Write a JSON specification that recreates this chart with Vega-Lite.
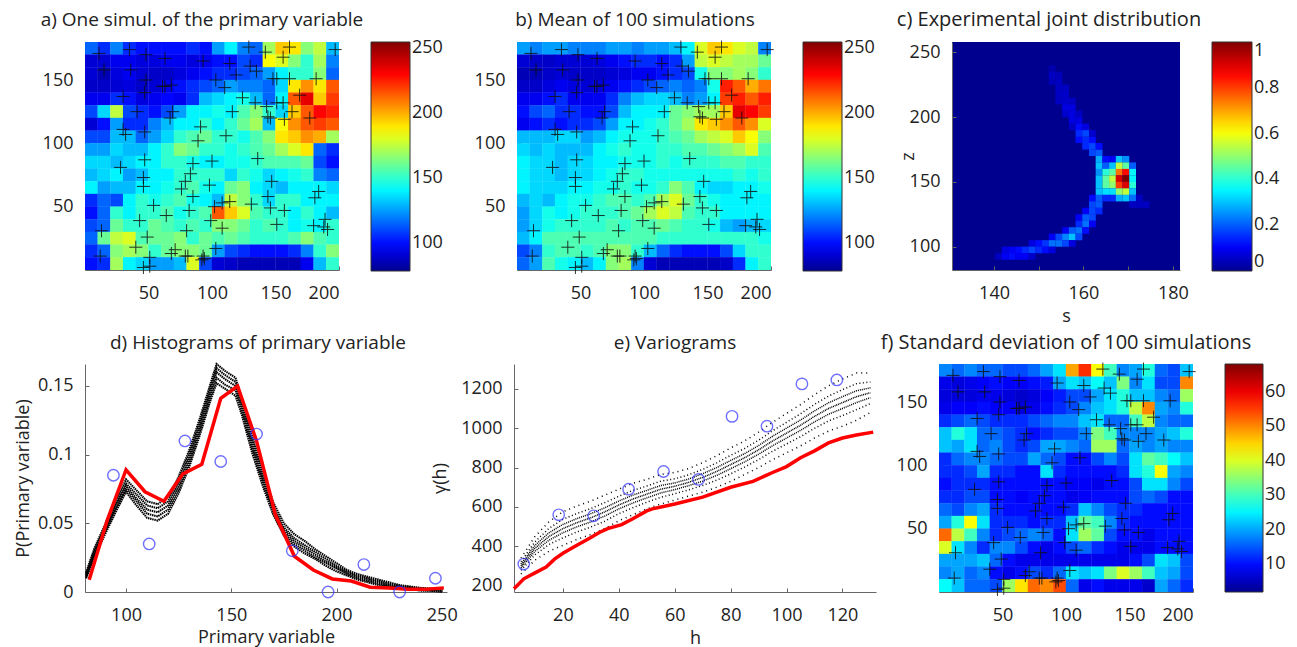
{"$schema":"https://vega.github.io/schema/vega-lite/v6.json","padding":{"left":14,"top":10,"right":0,"bottom":0},"background":"white","bounds":"flush","spacing":322,"resolve":{"scale":{"color":"independent"},"legend":{"color":"independent"}},
"config":{"font":"Open Sans","view":{"stroke":null},"axis":{"grid":false,"domainColor":"#666","tickColor":"#666","labelColor":"#222","titleColor":"#222","labelFontSize":18,"titleFontSize":18,"titleFontWeight":"normal","tickSize":-4,"labelOverlap":false,"labelFont":"Open Sans","titleFont":"Open Sans"},"axisX":{"labelPadding":18},"axisY":{"labelPadding":16},"title":{"fontSize":19,"fontWeight":"normal","color":"#222","font":"Open Sans","offset":11},"legend":{"gradientStrokeColor":"#333","gradientStrokeWidth":1,"labelFontSize":18,"labelColor":"#222","labelFont":"Open Sans","padding":0,"labelOverlap":false,"labelOffset":9}},
"datasets":{
"pts":[{"x":11,"y":171},{"x":35,"y":174},{"x":48,"y":170},{"x":63,"y":167},{"x":93,"y":165},{"x":114,"y":163},{"x":130,"y":161},{"x":135,"y":157},{"x":119,"y":154},{"x":129,"y":176},{"x":142,"y":172},{"x":161,"y":176},{"x":156,"y":168},{"x":197,"y":174},{"x":15,"y":158},{"x":36,"y":158},{"x":48,"y":150},{"x":68,"y":146},{"x":63,"y":145},{"x":61,"y":145},{"x":103,"y":150},{"x":110,"y":144},{"x":148,"y":151},{"x":151,"y":151},{"x":161,"y":151},{"x":182,"y":151},{"x":30,"y":137},{"x":47,"y":140},{"x":124,"y":136},{"x":134,"y":132},{"x":143,"y":129},{"x":151,"y":132},{"x":156,"y":132},{"x":169,"y":138},{"x":41,"y":125},{"x":69,"y":125},{"x":67,"y":120},{"x":116,"y":125},{"x":144,"y":121},{"x":146,"y":120},{"x":157,"y":119},{"x":163,"y":125},{"x":177,"y":120},{"x":30,"y":111},{"x":32,"y":107},{"x":47,"y":109},{"x":91,"y":113},{"x":89,"y":102},{"x":111,"y":106},{"x":136,"y":88},{"x":47,"y":87},{"x":28,"y":81},{"x":85,"y":84},{"x":100,"y":86},{"x":83,"y":76},{"x":79,"y":70},{"x":46,"y":73},{"x":46,"y":66},{"x":76,"y":64},{"x":98,"y":67},{"x":147,"y":70},{"x":184,"y":62},{"x":181,"y":57},{"x":85,"y":58},{"x":144,"y":58},{"x":108,"y":53},{"x":114,"y":54},{"x":102,"y":50},{"x":131,"y":52},{"x":54,"y":51},{"x":146,"y":49},{"x":82,"y":47},{"x":157,"y":47},{"x":64,"y":43},{"x":43,"y":39},{"x":99,"y":39},{"x":189,"y":40},{"x":151,"y":36},{"x":180,"y":35},{"x":188,"y":34},{"x":191,"y":32},{"x":108,"y":33},{"x":80,"y":31},{"x":13,"y":31},{"x":49,"y":26},{"x":40,"y":18},{"x":71,"y":16},{"x":103,"y":17},{"x":12,"y":11},{"x":51,"y":10},{"x":68,"y":13},{"x":79,"y":11},{"x":81,"y":11},{"x":93,"y":11},{"x":94,"y":9},{"x":92,"y":8},{"x":46,"y":2},{"x":51,"y":3}],
"a":[{"x":5,"y":175,"v":115},{"x":15,"y":175,"v":105},{"x":25,"y":175,"v":120},{"x":35,"y":175,"v":105},{"x":45,"y":175,"v":100},{"x":55,"y":175,"v":100},{"x":65,"y":175,"v":100},{"x":75,"y":175,"v":100},{"x":85,"y":175,"v":105},{"x":95,"y":175,"v":100},{"x":105,"y":175,"v":125},{"x":115,"y":175,"v":140},{"x":125,"y":175,"v":120},{"x":135,"y":175,"v":115},{"x":145,"y":175,"v":170},{"x":155,"y":175,"v":195},{"x":165,"y":175,"v":190},{"x":175,"y":175,"v":165},{"x":185,"y":175,"v":175},{"x":195,"y":175,"v":130},
{"x":5,"y":165,"v":90},{"x":15,"y":165,"v":90},{"x":25,"y":165,"v":95},{"x":35,"y":165,"v":95},{"x":45,"y":165,"v":92},{"x":55,"y":165,"v":92},{"x":65,"y":165,"v":95},{"x":75,"y":165,"v":95},{"x":85,"y":165,"v":92},{"x":95,"y":165,"v":95},{"x":105,"y":165,"v":100},{"x":115,"y":165,"v":100},{"x":125,"y":165,"v":110},{"x":135,"y":165,"v":105},{"x":145,"y":165,"v":185},{"x":155,"y":165,"v":180},{"x":165,"y":165,"v":165},{"x":175,"y":165,"v":150},{"x":185,"y":165,"v":170},{"x":195,"y":165,"v":120},
{"x":5,"y":155,"v":90},{"x":15,"y":155,"v":85},{"x":25,"y":155,"v":92},{"x":35,"y":155,"v":95},{"x":45,"y":155,"v":90},{"x":55,"y":155,"v":88},{"x":65,"y":155,"v":88},{"x":75,"y":155,"v":92},{"x":85,"y":155,"v":95},{"x":95,"y":155,"v":100},{"x":105,"y":155,"v":105},{"x":115,"y":155,"v":105},{"x":125,"y":155,"v":110},{"x":135,"y":155,"v":115},{"x":145,"y":155,"v":125},{"x":155,"y":155,"v":140},{"x":165,"y":155,"v":150},{"x":175,"y":155,"v":150},{"x":185,"y":155,"v":165},{"x":195,"y":155,"v":115},
{"x":5,"y":145,"v":88},{"x":15,"y":145,"v":88},{"x":25,"y":145,"v":90},{"x":35,"y":145,"v":92},{"x":45,"y":145,"v":88},{"x":55,"y":145,"v":90},{"x":65,"y":145,"v":95},{"x":75,"y":145,"v":100},{"x":85,"y":145,"v":105},{"x":95,"y":145,"v":110},{"x":105,"y":145,"v":115},{"x":115,"y":145,"v":125},{"x":125,"y":145,"v":120},{"x":135,"y":145,"v":120},{"x":145,"y":145,"v":115},{"x":155,"y":145,"v":135},{"x":165,"y":145,"v":190},{"x":175,"y":145,"v":205},{"x":185,"y":145,"v":190},{"x":195,"y":145,"v":215},
{"x":5,"y":135,"v":95},{"x":15,"y":135,"v":95},{"x":25,"y":135,"v":105},{"x":35,"y":135,"v":100},{"x":45,"y":135,"v":92},{"x":55,"y":135,"v":95},{"x":65,"y":135,"v":98},{"x":75,"y":135,"v":95},{"x":85,"y":135,"v":105},{"x":95,"y":135,"v":130},{"x":105,"y":135,"v":135},{"x":115,"y":135,"v":140},{"x":125,"y":135,"v":145},{"x":135,"y":135,"v":130},{"x":145,"y":135,"v":115},{"x":155,"y":135,"v":140},{"x":165,"y":135,"v":215},{"x":175,"y":135,"v":235},{"x":185,"y":135,"v":195},{"x":195,"y":135,"v":220},
{"x":5,"y":125,"v":110},{"x":15,"y":125,"v":135},{"x":25,"y":125,"v":175},{"x":35,"y":125,"v":110},{"x":45,"y":125,"v":105},{"x":55,"y":125,"v":100},{"x":65,"y":125,"v":110},{"x":75,"y":125,"v":125},{"x":85,"y":125,"v":140},{"x":95,"y":125,"v":140},{"x":105,"y":125,"v":145},{"x":115,"y":125,"v":140},{"x":125,"y":125,"v":155},{"x":135,"y":125,"v":165},{"x":145,"y":125,"v":150},{"x":155,"y":125,"v":135},{"x":165,"y":125,"v":195},{"x":175,"y":125,"v":215},{"x":185,"y":125,"v":230},{"x":195,"y":125,"v":225},
{"x":5,"y":115,"v":90},{"x":15,"y":115,"v":100},{"x":25,"y":115,"v":125},{"x":35,"y":115,"v":105},{"x":45,"y":115,"v":105},{"x":55,"y":115,"v":120},{"x":65,"y":115,"v":130},{"x":75,"y":115,"v":140},{"x":85,"y":115,"v":140},{"x":95,"y":115,"v":150},{"x":105,"y":115,"v":140},{"x":115,"y":115,"v":150},{"x":125,"y":115,"v":160},{"x":135,"y":115,"v":170},{"x":145,"y":115,"v":130},{"x":155,"y":115,"v":185},{"x":165,"y":115,"v":205},{"x":175,"y":115,"v":215},{"x":185,"y":115,"v":220},{"x":195,"y":115,"v":215},
{"x":5,"y":105,"v":110},{"x":15,"y":105,"v":110},{"x":25,"y":105,"v":130},{"x":35,"y":105,"v":130},{"x":45,"y":105,"v":115},{"x":55,"y":105,"v":125},{"x":65,"y":105,"v":135},{"x":75,"y":105,"v":150},{"x":85,"y":105,"v":155},{"x":95,"y":105,"v":160},{"x":105,"y":105,"v":150},{"x":115,"y":105,"v":150},{"x":125,"y":105,"v":145},{"x":135,"y":105,"v":155},{"x":145,"y":105,"v":165},{"x":155,"y":105,"v":190},{"x":165,"y":105,"v":195},{"x":175,"y":105,"v":205},{"x":185,"y":105,"v":200},{"x":195,"y":105,"v":170},
{"x":5,"y":95,"v":125},{"x":15,"y":95,"v":125},{"x":25,"y":95,"v":135},{"x":35,"y":95,"v":130},{"x":45,"y":95,"v":130},{"x":55,"y":95,"v":140},{"x":65,"y":95,"v":150},{"x":75,"y":95,"v":165},{"x":85,"y":95,"v":160},{"x":95,"y":95,"v":150},{"x":105,"y":95,"v":150},{"x":115,"y":95,"v":145},{"x":125,"y":95,"v":150},{"x":135,"y":95,"v":155},{"x":145,"y":95,"v":160},{"x":155,"y":95,"v":170},{"x":165,"y":95,"v":180},{"x":175,"y":95,"v":190},{"x":185,"y":95,"v":115},{"x":195,"y":95,"v":105},
{"x":5,"y":85,"v":135},{"x":15,"y":85,"v":135},{"x":25,"y":85,"v":130},{"x":35,"y":85,"v":135},{"x":45,"y":85,"v":140},{"x":55,"y":85,"v":140},{"x":65,"y":85,"v":150},{"x":75,"y":85,"v":150},{"x":85,"y":85,"v":145},{"x":95,"y":85,"v":140},{"x":105,"y":85,"v":140},{"x":115,"y":85,"v":145},{"x":125,"y":85,"v":145},{"x":135,"y":85,"v":150},{"x":145,"y":85,"v":155},{"x":155,"y":85,"v":155},{"x":165,"y":85,"v":155},{"x":175,"y":85,"v":160},{"x":185,"y":85,"v":110},{"x":195,"y":85,"v":100},
{"x":5,"y":75,"v":130},{"x":15,"y":75,"v":135},{"x":25,"y":75,"v":140},{"x":35,"y":75,"v":125},{"x":45,"y":75,"v":130},{"x":55,"y":75,"v":140},{"x":65,"y":75,"v":140},{"x":75,"y":75,"v":150},{"x":85,"y":75,"v":150},{"x":95,"y":75,"v":150},{"x":105,"y":75,"v":150},{"x":115,"y":75,"v":135},{"x":125,"y":75,"v":150},{"x":135,"y":75,"v":145},{"x":145,"y":75,"v":135},{"x":155,"y":75,"v":140},{"x":165,"y":75,"v":145},{"x":175,"y":75,"v":150},{"x":185,"y":75,"v":120},{"x":195,"y":75,"v":115},
{"x":5,"y":65,"v":140},{"x":15,"y":65,"v":125},{"x":25,"y":65,"v":130},{"x":35,"y":65,"v":130},{"x":45,"y":65,"v":140},{"x":55,"y":65,"v":140},{"x":65,"y":65,"v":145},{"x":75,"y":65,"v":150},{"x":85,"y":65,"v":155},{"x":95,"y":65,"v":145},{"x":105,"y":65,"v":140},{"x":115,"y":65,"v":160},{"x":125,"y":65,"v":165},{"x":135,"y":65,"v":140},{"x":145,"y":65,"v":135},{"x":155,"y":65,"v":130},{"x":165,"y":65,"v":140},{"x":175,"y":65,"v":140},{"x":185,"y":65,"v":140},{"x":195,"y":65,"v":135},
{"x":5,"y":55,"v":105},{"x":15,"y":55,"v":115},{"x":25,"y":55,"v":110},{"x":35,"y":55,"v":140},{"x":45,"y":55,"v":150},{"x":55,"y":55,"v":145},{"x":65,"y":55,"v":150},{"x":75,"y":55,"v":155},{"x":85,"y":55,"v":145},{"x":95,"y":55,"v":140},{"x":105,"y":55,"v":130},{"x":115,"y":55,"v":175},{"x":125,"y":55,"v":165},{"x":135,"y":55,"v":150},{"x":145,"y":55,"v":135},{"x":155,"y":55,"v":150},{"x":165,"y":55,"v":150},{"x":175,"y":55,"v":140},{"x":185,"y":55,"v":140},{"x":195,"y":55,"v":140},
{"x":5,"y":45,"v":100},{"x":15,"y":45,"v":115},{"x":25,"y":45,"v":150},{"x":35,"y":45,"v":140},{"x":45,"y":45,"v":150},{"x":55,"y":45,"v":150},{"x":65,"y":45,"v":155},{"x":75,"y":45,"v":145},{"x":85,"y":45,"v":150},{"x":95,"y":45,"v":155},{"x":105,"y":45,"v":215},{"x":115,"y":45,"v":195},{"x":125,"y":45,"v":180},{"x":135,"y":45,"v":155},{"x":145,"y":45,"v":150},{"x":155,"y":45,"v":150},{"x":165,"y":45,"v":140},{"x":175,"y":45,"v":150},{"x":185,"y":45,"v":140},{"x":195,"y":45,"v":130},
{"x":5,"y":35,"v":110},{"x":15,"y":35,"v":115},{"x":25,"y":35,"v":160},{"x":35,"y":35,"v":150},{"x":45,"y":35,"v":150},{"x":55,"y":35,"v":160},{"x":65,"y":35,"v":155},{"x":75,"y":35,"v":150},{"x":85,"y":35,"v":155},{"x":95,"y":35,"v":150},{"x":105,"y":35,"v":165},{"x":115,"y":35,"v":165},{"x":125,"y":35,"v":160},{"x":135,"y":35,"v":150},{"x":145,"y":35,"v":155},{"x":155,"y":35,"v":150},{"x":165,"y":35,"v":140},{"x":175,"y":35,"v":145},{"x":185,"y":35,"v":140},{"x":195,"y":35,"v":150},
{"x":5,"y":25,"v":115},{"x":15,"y":25,"v":160},{"x":25,"y":25,"v":175},{"x":35,"y":25,"v":180},{"x":45,"y":25,"v":155},{"x":55,"y":25,"v":160},{"x":65,"y":25,"v":160},{"x":75,"y":25,"v":165},{"x":85,"y":25,"v":150},{"x":95,"y":25,"v":160},{"x":105,"y":25,"v":155},{"x":115,"y":25,"v":160},{"x":125,"y":25,"v":155},{"x":135,"y":25,"v":150},{"x":145,"y":25,"v":150},{"x":155,"y":25,"v":150},{"x":165,"y":25,"v":155},{"x":175,"y":25,"v":165},{"x":185,"y":25,"v":155},{"x":195,"y":25,"v":150},
{"x":5,"y":15,"v":105},{"x":15,"y":15,"v":115},{"x":25,"y":15,"v":165},{"x":35,"y":15,"v":170},{"x":45,"y":15,"v":165},{"x":55,"y":15,"v":150},{"x":65,"y":15,"v":160},{"x":75,"y":15,"v":165},{"x":85,"y":15,"v":165},{"x":95,"y":15,"v":160},{"x":105,"y":15,"v":125},{"x":115,"y":15,"v":110},{"x":125,"y":15,"v":105},{"x":135,"y":15,"v":100},{"x":145,"y":15,"v":100},{"x":155,"y":15,"v":100},{"x":165,"y":15,"v":105},{"x":175,"y":15,"v":120},{"x":185,"y":15,"v":150},{"x":195,"y":15,"v":165},
{"x":5,"y":5,"v":100},{"x":15,"y":5,"v":105},{"x":25,"y":5,"v":170},{"x":35,"y":5,"v":140},{"x":45,"y":5,"v":135},{"x":55,"y":5,"v":125},{"x":65,"y":5,"v":125},{"x":75,"y":5,"v":130},{"x":85,"y":5,"v":180},{"x":95,"y":5,"v":110},{"x":105,"y":5,"v":90},{"x":115,"y":5,"v":88},{"x":125,"y":5,"v":85},{"x":135,"y":5,"v":85},{"x":145,"y":5,"v":85},{"x":155,"y":5,"v":85},{"x":165,"y":5,"v":85},{"x":175,"y":5,"v":95},{"x":185,"y":5,"v":130},{"x":195,"y":5,"v":150}],
"b":[{"x":5,"y":175,"v":125},{"x":15,"y":175,"v":120},{"x":25,"y":175,"v":125},{"x":35,"y":175,"v":125},{"x":45,"y":175,"v":120},{"x":55,"y":175,"v":120},{"x":65,"y":175,"v":120},{"x":75,"y":175,"v":125},{"x":85,"y":175,"v":125},{"x":95,"y":175,"v":120},{"x":105,"y":175,"v":125},{"x":115,"y":175,"v":125},{"x":125,"y":175,"v":130},{"x":135,"y":175,"v":140},{"x":145,"y":175,"v":180},{"x":155,"y":175,"v":195},{"x":165,"y":175,"v":190},{"x":175,"y":175,"v":180},{"x":185,"y":175,"v":175},{"x":195,"y":175,"v":120},
{"x":5,"y":165,"v":90},{"x":15,"y":165,"v":88},{"x":25,"y":165,"v":88},{"x":35,"y":165,"v":90},{"x":45,"y":165,"v":90},{"x":55,"y":165,"v":90},{"x":65,"y":165,"v":92},{"x":75,"y":165,"v":95},{"x":85,"y":165,"v":100},{"x":95,"y":165,"v":105},{"x":105,"y":165,"v":105},{"x":115,"y":165,"v":100},{"x":125,"y":165,"v":105},{"x":135,"y":165,"v":125},{"x":145,"y":165,"v":175},{"x":155,"y":165,"v":180},{"x":165,"y":165,"v":175},{"x":175,"y":165,"v":170},{"x":185,"y":165,"v":170},{"x":195,"y":165,"v":160},
{"x":5,"y":155,"v":85},{"x":15,"y":155,"v":85},{"x":25,"y":155,"v":88},{"x":35,"y":155,"v":90},{"x":45,"y":155,"v":88},{"x":55,"y":155,"v":88},{"x":65,"y":155,"v":88},{"x":75,"y":155,"v":90},{"x":85,"y":155,"v":92},{"x":95,"y":155,"v":95},{"x":105,"y":155,"v":95},{"x":115,"y":155,"v":100},{"x":125,"y":155,"v":105},{"x":135,"y":155,"v":110},{"x":145,"y":155,"v":145},{"x":155,"y":155,"v":165},{"x":165,"y":155,"v":165},{"x":175,"y":155,"v":170},{"x":185,"y":155,"v":165},{"x":195,"y":155,"v":150},
{"x":5,"y":145,"v":88},{"x":15,"y":145,"v":88},{"x":25,"y":145,"v":92},{"x":35,"y":145,"v":95},{"x":45,"y":145,"v":92},{"x":55,"y":145,"v":90},{"x":65,"y":145,"v":92},{"x":75,"y":145,"v":95},{"x":85,"y":145,"v":100},{"x":95,"y":145,"v":105},{"x":105,"y":145,"v":110},{"x":115,"y":145,"v":115},{"x":125,"y":145,"v":120},{"x":135,"y":145,"v":115},{"x":145,"y":145,"v":120},{"x":155,"y":145,"v":145},{"x":165,"y":145,"v":225},{"x":175,"y":145,"v":215},{"x":185,"y":145,"v":200},{"x":195,"y":145,"v":210},
{"x":5,"y":135,"v":95},{"x":15,"y":135,"v":95},{"x":25,"y":135,"v":100},{"x":35,"y":135,"v":105},{"x":45,"y":135,"v":95},{"x":55,"y":135,"v":95},{"x":65,"y":135,"v":95},{"x":75,"y":135,"v":105},{"x":85,"y":135,"v":120},{"x":95,"y":135,"v":130},{"x":105,"y":135,"v":135},{"x":115,"y":135,"v":135},{"x":125,"y":135,"v":130},{"x":135,"y":135,"v":120},{"x":145,"y":135,"v":125},{"x":155,"y":135,"v":140},{"x":165,"y":135,"v":220},{"x":175,"y":135,"v":225},{"x":185,"y":135,"v":215},{"x":195,"y":135,"v":225},
{"x":5,"y":125,"v":100},{"x":15,"y":125,"v":110},{"x":25,"y":125,"v":115},{"x":35,"y":125,"v":105},{"x":45,"y":125,"v":105},{"x":55,"y":125,"v":100},{"x":65,"y":125,"v":100},{"x":75,"y":125,"v":110},{"x":85,"y":125,"v":130},{"x":95,"y":125,"v":140},{"x":105,"y":125,"v":140},{"x":115,"y":125,"v":140},{"x":125,"y":125,"v":160},{"x":135,"y":125,"v":165},{"x":145,"y":125,"v":170},{"x":155,"y":125,"v":170},{"x":165,"y":125,"v":195},{"x":175,"y":125,"v":235},{"x":185,"y":125,"v":230},{"x":195,"y":125,"v":220},
{"x":5,"y":115,"v":95},{"x":15,"y":115,"v":100},{"x":25,"y":115,"v":105},{"x":35,"y":115,"v":100},{"x":45,"y":115,"v":105},{"x":55,"y":115,"v":105},{"x":65,"y":115,"v":110},{"x":75,"y":115,"v":125},{"x":85,"y":115,"v":140},{"x":95,"y":115,"v":140},{"x":105,"y":115,"v":145},{"x":115,"y":115,"v":150},{"x":125,"y":115,"v":160},{"x":135,"y":115,"v":170},{"x":145,"y":115,"v":190},{"x":155,"y":115,"v":195},{"x":165,"y":115,"v":205},{"x":175,"y":115,"v":215},{"x":185,"y":115,"v":205},{"x":195,"y":115,"v":180},
{"x":5,"y":105,"v":130},{"x":15,"y":105,"v":130},{"x":25,"y":105,"v":130},{"x":35,"y":105,"v":135},{"x":45,"y":105,"v":135},{"x":55,"y":105,"v":125},{"x":65,"y":105,"v":130},{"x":75,"y":105,"v":140},{"x":85,"y":105,"v":145},{"x":95,"y":105,"v":145},{"x":105,"y":105,"v":145},{"x":115,"y":105,"v":150},{"x":125,"y":105,"v":155},{"x":135,"y":105,"v":160},{"x":145,"y":105,"v":170},{"x":155,"y":105,"v":175},{"x":165,"y":105,"v":180},{"x":175,"y":105,"v":195},{"x":185,"y":105,"v":185},{"x":195,"y":105,"v":165},
{"x":5,"y":95,"v":135},{"x":15,"y":95,"v":130},{"x":25,"y":95,"v":135},{"x":35,"y":95,"v":130},{"x":45,"y":95,"v":130},{"x":55,"y":95,"v":130},{"x":65,"y":95,"v":140},{"x":75,"y":95,"v":145},{"x":85,"y":95,"v":150},{"x":95,"y":95,"v":145},{"x":105,"y":95,"v":145},{"x":115,"y":95,"v":150},{"x":125,"y":95,"v":150},{"x":135,"y":95,"v":155},{"x":145,"y":95,"v":155},{"x":155,"y":95,"v":160},{"x":165,"y":95,"v":165},{"x":175,"y":95,"v":170},{"x":185,"y":95,"v":180},{"x":195,"y":95,"v":155},
{"x":5,"y":85,"v":140},{"x":15,"y":85,"v":135},{"x":25,"y":85,"v":135},{"x":35,"y":85,"v":130},{"x":45,"y":85,"v":135},{"x":55,"y":85,"v":135},{"x":65,"y":85,"v":140},{"x":75,"y":85,"v":140},{"x":85,"y":85,"v":145},{"x":95,"y":85,"v":145},{"x":105,"y":85,"v":145},{"x":115,"y":85,"v":150},{"x":125,"y":85,"v":145},{"x":135,"y":85,"v":150},{"x":145,"y":85,"v":150},{"x":155,"y":85,"v":150},{"x":165,"y":85,"v":155},{"x":175,"y":85,"v":155},{"x":185,"y":85,"v":150},{"x":195,"y":85,"v":150},
{"x":5,"y":75,"v":140},{"x":15,"y":75,"v":135},{"x":25,"y":75,"v":135},{"x":35,"y":75,"v":130},{"x":45,"y":75,"v":135},{"x":55,"y":75,"v":135},{"x":65,"y":75,"v":140},{"x":75,"y":75,"v":145},{"x":85,"y":75,"v":150},{"x":95,"y":75,"v":150},{"x":105,"y":75,"v":145},{"x":115,"y":75,"v":145},{"x":125,"y":75,"v":145},{"x":135,"y":75,"v":145},{"x":145,"y":75,"v":145},{"x":155,"y":75,"v":145},{"x":165,"y":75,"v":145},{"x":175,"y":75,"v":150},{"x":185,"y":75,"v":145},{"x":195,"y":75,"v":150},
{"x":5,"y":65,"v":140},{"x":15,"y":65,"v":135},{"x":25,"y":65,"v":135},{"x":35,"y":65,"v":135},{"x":45,"y":65,"v":140},{"x":55,"y":65,"v":140},{"x":65,"y":65,"v":145},{"x":75,"y":65,"v":145},{"x":85,"y":65,"v":150},{"x":95,"y":65,"v":145},{"x":105,"y":65,"v":145},{"x":115,"y":65,"v":150},{"x":125,"y":65,"v":165},{"x":135,"y":65,"v":155},{"x":145,"y":65,"v":140},{"x":155,"y":65,"v":135},{"x":165,"y":65,"v":135},{"x":175,"y":65,"v":140},{"x":185,"y":65,"v":140},{"x":195,"y":65,"v":145},
{"x":5,"y":55,"v":130},{"x":15,"y":55,"v":135},{"x":25,"y":55,"v":130},{"x":35,"y":55,"v":140},{"x":45,"y":55,"v":145},{"x":55,"y":55,"v":145},{"x":65,"y":55,"v":150},{"x":75,"y":55,"v":155},{"x":85,"y":55,"v":155},{"x":95,"y":55,"v":150},{"x":105,"y":55,"v":155},{"x":115,"y":55,"v":170},{"x":125,"y":55,"v":180},{"x":135,"y":55,"v":160},{"x":145,"y":55,"v":150},{"x":155,"y":55,"v":145},{"x":165,"y":55,"v":140},{"x":175,"y":55,"v":140},{"x":185,"y":55,"v":140},{"x":195,"y":55,"v":140},
{"x":5,"y":45,"v":125},{"x":15,"y":45,"v":135},{"x":25,"y":45,"v":145},{"x":35,"y":45,"v":140},{"x":45,"y":45,"v":145},{"x":55,"y":45,"v":150},{"x":65,"y":45,"v":150},{"x":75,"y":45,"v":150},{"x":85,"y":45,"v":155},{"x":95,"y":45,"v":160},{"x":105,"y":45,"v":170},{"x":115,"y":45,"v":180},{"x":125,"y":45,"v":175},{"x":135,"y":45,"v":155},{"x":145,"y":45,"v":150},{"x":155,"y":45,"v":150},{"x":165,"y":45,"v":140},{"x":175,"y":45,"v":140},{"x":185,"y":45,"v":140},{"x":195,"y":45,"v":140},
{"x":5,"y":35,"v":125},{"x":15,"y":35,"v":135},{"x":25,"y":35,"v":145},{"x":35,"y":35,"v":150},{"x":45,"y":35,"v":150},{"x":55,"y":35,"v":150},{"x":65,"y":35,"v":150},{"x":75,"y":35,"v":155},{"x":85,"y":35,"v":150},{"x":95,"y":35,"v":155},{"x":105,"y":35,"v":155},{"x":115,"y":35,"v":160},{"x":125,"y":35,"v":155},{"x":135,"y":35,"v":150},{"x":145,"y":35,"v":150},{"x":155,"y":35,"v":145},{"x":165,"y":35,"v":130},{"x":175,"y":35,"v":125},{"x":185,"y":35,"v":130},{"x":195,"y":35,"v":135},
{"x":5,"y":25,"v":130},{"x":15,"y":25,"v":140},{"x":25,"y":25,"v":155},{"x":35,"y":25,"v":155},{"x":45,"y":25,"v":155},{"x":55,"y":25,"v":155},{"x":65,"y":25,"v":155},{"x":75,"y":25,"v":155},{"x":85,"y":25,"v":155},{"x":95,"y":25,"v":155},{"x":105,"y":25,"v":155},{"x":115,"y":25,"v":150},{"x":125,"y":25,"v":150},{"x":135,"y":25,"v":150},{"x":145,"y":25,"v":150},{"x":155,"y":25,"v":150},{"x":165,"y":25,"v":150},{"x":175,"y":25,"v":150},{"x":185,"y":25,"v":150},{"x":195,"y":25,"v":145},
{"x":5,"y":15,"v":110},{"x":15,"y":15,"v":120},{"x":25,"y":15,"v":150},{"x":35,"y":15,"v":155},{"x":45,"y":15,"v":155},{"x":55,"y":15,"v":150},{"x":65,"y":15,"v":155},{"x":75,"y":15,"v":165},{"x":85,"y":15,"v":165},{"x":95,"y":15,"v":150},{"x":105,"y":15,"v":130},{"x":115,"y":15,"v":115},{"x":125,"y":15,"v":105},{"x":135,"y":15,"v":100},{"x":145,"y":15,"v":100},{"x":155,"y":15,"v":100},{"x":165,"y":15,"v":110},{"x":175,"y":15,"v":135},{"x":185,"y":15,"v":150},{"x":195,"y":15,"v":150},
{"x":5,"y":5,"v":115},{"x":15,"y":5,"v":125},{"x":25,"y":5,"v":155},{"x":35,"y":5,"v":145},{"x":45,"y":5,"v":140},{"x":55,"y":5,"v":130},{"x":65,"y":5,"v":140},{"x":75,"y":5,"v":165},{"x":85,"y":5,"v":170},{"x":95,"y":5,"v":120},{"x":105,"y":5,"v":90},{"x":115,"y":5,"v":85},{"x":125,"y":5,"v":85},{"x":135,"y":5,"v":85},{"x":145,"y":5,"v":85},{"x":155,"y":5,"v":85},{"x":165,"y":5,"v":88},{"x":175,"y":5,"v":105},{"x":185,"y":5,"v":140},{"x":195,"y":5,"v":150}],
"f":[{"x":5,"y":175,"v":18},{"x":15,"y":175,"v":16},{"x":25,"y":175,"v":18},{"x":35,"y":175,"v":16},{"x":45,"y":175,"v":16},{"x":55,"y":175,"v":14},{"x":65,"y":175,"v":14},{"x":75,"y":175,"v":16},{"x":85,"y":175,"v":20},{"x":95,"y":175,"v":24},{"x":105,"y":175,"v":48},{"x":115,"y":175,"v":56},{"x":125,"y":175,"v":42},{"x":135,"y":175,"v":30},{"x":145,"y":175,"v":18},{"x":155,"y":175,"v":20},{"x":165,"y":175,"v":28},{"x":175,"y":175,"v":16},{"x":185,"y":175,"v":14},{"x":195,"y":175,"v":22},
{"x":5,"y":165,"v":8},{"x":15,"y":165,"v":7},{"x":25,"y":165,"v":8},{"x":35,"y":165,"v":9},{"x":45,"y":165,"v":10},{"x":55,"y":165,"v":9},{"x":65,"y":165,"v":9},{"x":75,"y":165,"v":10},{"x":85,"y":165,"v":11},{"x":95,"y":165,"v":20},{"x":105,"y":165,"v":24},{"x":115,"y":165,"v":22},{"x":125,"y":165,"v":26},{"x":135,"y":165,"v":22},{"x":145,"y":165,"v":34},{"x":155,"y":165,"v":18},{"x":165,"y":165,"v":24},{"x":175,"y":165,"v":14},{"x":185,"y":165,"v":14},{"x":195,"y":165,"v":50},
{"x":5,"y":155,"v":7},{"x":15,"y":155,"v":7},{"x":25,"y":155,"v":7},{"x":35,"y":155,"v":8},{"x":45,"y":155,"v":8},{"x":55,"y":155,"v":7},{"x":65,"y":155,"v":6},{"x":75,"y":155,"v":7},{"x":85,"y":155,"v":9},{"x":95,"y":155,"v":11},{"x":105,"y":155,"v":14},{"x":115,"y":155,"v":14},{"x":125,"y":155,"v":20},{"x":135,"y":155,"v":24},{"x":145,"y":155,"v":28},{"x":155,"y":155,"v":22},{"x":165,"y":155,"v":22},{"x":175,"y":155,"v":18},{"x":185,"y":155,"v":16},{"x":195,"y":155,"v":36},
{"x":5,"y":145,"v":8},{"x":15,"y":145,"v":9},{"x":25,"y":145,"v":9},{"x":35,"y":145,"v":10},{"x":45,"y":145,"v":9},{"x":55,"y":145,"v":9},{"x":65,"y":145,"v":7},{"x":75,"y":145,"v":8},{"x":85,"y":145,"v":10},{"x":95,"y":145,"v":12},{"x":105,"y":145,"v":14},{"x":115,"y":145,"v":18},{"x":125,"y":145,"v":22},{"x":135,"y":145,"v":24},{"x":145,"y":145,"v":28},{"x":155,"y":145,"v":38},{"x":165,"y":145,"v":50},{"x":175,"y":145,"v":20},{"x":185,"y":145,"v":18},{"x":195,"y":145,"v":28},
{"x":5,"y":135,"v":12},{"x":15,"y":135,"v":14},{"x":25,"y":135,"v":16},{"x":35,"y":135,"v":14},{"x":45,"y":135,"v":12},{"x":55,"y":135,"v":12},{"x":65,"y":135,"v":12},{"x":75,"y":135,"v":14},{"x":85,"y":135,"v":16},{"x":95,"y":135,"v":18},{"x":105,"y":135,"v":18},{"x":115,"y":135,"v":22},{"x":125,"y":135,"v":24},{"x":135,"y":135,"v":16},{"x":145,"y":135,"v":16},{"x":155,"y":135,"v":30},{"x":165,"y":135,"v":38},{"x":175,"y":135,"v":18},{"x":185,"y":135,"v":16},{"x":195,"y":135,"v":16},
{"x":5,"y":125,"v":22},{"x":15,"y":125,"v":28},{"x":25,"y":125,"v":24},{"x":35,"y":125,"v":16},{"x":45,"y":125,"v":16},{"x":55,"y":125,"v":14},{"x":65,"y":125,"v":12},{"x":75,"y":125,"v":10},{"x":85,"y":125,"v":12},{"x":95,"y":125,"v":14},{"x":105,"y":125,"v":14},{"x":115,"y":125,"v":18},{"x":125,"y":125,"v":34},{"x":135,"y":125,"v":30},{"x":145,"y":125,"v":18},{"x":155,"y":125,"v":18},{"x":165,"y":125,"v":18},{"x":175,"y":125,"v":20},{"x":185,"y":125,"v":22},{"x":195,"y":125,"v":28},
{"x":5,"y":115,"v":22},{"x":15,"y":115,"v":20},{"x":25,"y":115,"v":24},{"x":35,"y":115,"v":16},{"x":45,"y":115,"v":18},{"x":55,"y":115,"v":14},{"x":65,"y":115,"v":12},{"x":75,"y":115,"v":14},{"x":85,"y":115,"v":20},{"x":95,"y":115,"v":20},{"x":105,"y":115,"v":18},{"x":115,"y":115,"v":16},{"x":125,"y":115,"v":36},{"x":135,"y":115,"v":36},{"x":145,"y":115,"v":16},{"x":155,"y":115,"v":20},{"x":165,"y":115,"v":18},{"x":175,"y":115,"v":20},{"x":185,"y":115,"v":18},{"x":195,"y":115,"v":18},
{"x":5,"y":105,"v":12},{"x":15,"y":105,"v":16},{"x":25,"y":105,"v":18},{"x":35,"y":105,"v":18},{"x":45,"y":105,"v":16},{"x":55,"y":105,"v":14},{"x":65,"y":105,"v":14},{"x":75,"y":105,"v":20},{"x":85,"y":105,"v":16},{"x":95,"y":105,"v":14},{"x":105,"y":105,"v":10},{"x":115,"y":105,"v":10},{"x":125,"y":105,"v":14},{"x":135,"y":105,"v":18},{"x":145,"y":105,"v":14},{"x":155,"y":105,"v":24},{"x":165,"y":105,"v":32},{"x":175,"y":105,"v":30},{"x":185,"y":105,"v":26},{"x":195,"y":105,"v":22},
{"x":5,"y":95,"v":12},{"x":15,"y":95,"v":12},{"x":25,"y":95,"v":14},{"x":35,"y":95,"v":20},{"x":45,"y":95,"v":12},{"x":55,"y":95,"v":12},{"x":65,"y":95,"v":10},{"x":75,"y":95,"v":10},{"x":85,"y":95,"v":24},{"x":95,"y":95,"v":12},{"x":105,"y":95,"v":10},{"x":115,"y":95,"v":10},{"x":125,"y":95,"v":10},{"x":135,"y":95,"v":10},{"x":145,"y":95,"v":12},{"x":155,"y":95,"v":24},{"x":165,"y":95,"v":28},{"x":175,"y":95,"v":42},{"x":185,"y":95,"v":20},{"x":195,"y":95,"v":18},
{"x":5,"y":85,"v":10},{"x":15,"y":85,"v":12},{"x":25,"y":85,"v":12},{"x":35,"y":85,"v":12},{"x":45,"y":85,"v":10},{"x":55,"y":85,"v":10},{"x":65,"y":85,"v":10},{"x":75,"y":85,"v":10},{"x":85,"y":85,"v":10},{"x":95,"y":85,"v":10},{"x":105,"y":85,"v":9},{"x":115,"y":85,"v":9},{"x":125,"y":85,"v":8},{"x":135,"y":85,"v":10},{"x":145,"y":85,"v":10},{"x":155,"y":85,"v":14},{"x":165,"y":85,"v":24},{"x":175,"y":85,"v":24},{"x":185,"y":85,"v":18},{"x":195,"y":85,"v":14},
{"x":5,"y":75,"v":12},{"x":15,"y":75,"v":12},{"x":25,"y":75,"v":14},{"x":35,"y":75,"v":14},{"x":45,"y":75,"v":10},{"x":55,"y":75,"v":10},{"x":65,"y":75,"v":9},{"x":75,"y":75,"v":10},{"x":85,"y":75,"v":10},{"x":95,"y":75,"v":10},{"x":105,"y":75,"v":8},{"x":115,"y":75,"v":9},{"x":125,"y":75,"v":10},{"x":135,"y":75,"v":10},{"x":145,"y":75,"v":10},{"x":155,"y":75,"v":14},{"x":165,"y":75,"v":16},{"x":175,"y":75,"v":14},{"x":185,"y":75,"v":10},{"x":195,"y":75,"v":10},
{"x":5,"y":65,"v":16},{"x":15,"y":65,"v":14},{"x":25,"y":65,"v":18},{"x":35,"y":65,"v":20},{"x":45,"y":65,"v":12},{"x":55,"y":65,"v":10},{"x":65,"y":65,"v":10},{"x":75,"y":65,"v":10},{"x":85,"y":65,"v":10},{"x":95,"y":65,"v":10},{"x":105,"y":65,"v":12},{"x":115,"y":65,"v":22},{"x":125,"y":65,"v":18},{"x":135,"y":65,"v":14},{"x":145,"y":65,"v":12},{"x":155,"y":65,"v":12},{"x":165,"y":65,"v":10},{"x":175,"y":65,"v":10},{"x":185,"y":65,"v":10},{"x":195,"y":65,"v":10},
{"x":5,"y":55,"v":20},{"x":15,"y":55,"v":28},{"x":25,"y":55,"v":42},{"x":35,"y":55,"v":24},{"x":45,"y":55,"v":12},{"x":55,"y":55,"v":12},{"x":65,"y":55,"v":12},{"x":75,"y":55,"v":10},{"x":85,"y":55,"v":12},{"x":95,"y":55,"v":12},{"x":105,"y":55,"v":22},{"x":115,"y":55,"v":32},{"x":125,"y":55,"v":30},{"x":135,"y":55,"v":18},{"x":145,"y":55,"v":12},{"x":155,"y":55,"v":10},{"x":165,"y":55,"v":10},{"x":175,"y":55,"v":10},{"x":185,"y":55,"v":10},{"x":195,"y":55,"v":10},
{"x":5,"y":45,"v":52},{"x":15,"y":45,"v":38},{"x":25,"y":45,"v":30},{"x":35,"y":45,"v":18},{"x":45,"y":45,"v":12},{"x":55,"y":45,"v":14},{"x":65,"y":45,"v":16},{"x":75,"y":45,"v":18},{"x":85,"y":45,"v":16},{"x":95,"y":45,"v":10},{"x":105,"y":45,"v":24},{"x":115,"y":45,"v":36},{"x":125,"y":45,"v":32},{"x":135,"y":45,"v":14},{"x":145,"y":45,"v":10},{"x":155,"y":45,"v":10},{"x":165,"y":45,"v":8},{"x":175,"y":45,"v":10},{"x":185,"y":45,"v":10},{"x":195,"y":45,"v":10},
{"x":5,"y":35,"v":40},{"x":15,"y":35,"v":24},{"x":25,"y":35,"v":18},{"x":35,"y":35,"v":12},{"x":45,"y":35,"v":18},{"x":55,"y":35,"v":18},{"x":65,"y":35,"v":14},{"x":75,"y":35,"v":10},{"x":85,"y":35,"v":8},{"x":95,"y":35,"v":10},{"x":105,"y":35,"v":14},{"x":115,"y":35,"v":16},{"x":125,"y":35,"v":12},{"x":135,"y":35,"v":10},{"x":145,"y":35,"v":8},{"x":155,"y":35,"v":8},{"x":165,"y":35,"v":8},{"x":175,"y":35,"v":10},{"x":185,"y":35,"v":10},{"x":195,"y":35,"v":10},
{"x":5,"y":25,"v":20},{"x":15,"y":25,"v":20},{"x":25,"y":25,"v":20},{"x":35,"y":25,"v":22},{"x":45,"y":25,"v":16},{"x":55,"y":25,"v":10},{"x":65,"y":25,"v":8},{"x":75,"y":25,"v":8},{"x":85,"y":25,"v":8},{"x":95,"y":25,"v":8},{"x":105,"y":25,"v":8},{"x":115,"y":25,"v":8},{"x":125,"y":25,"v":8},{"x":135,"y":25,"v":8},{"x":145,"y":25,"v":8},{"x":155,"y":25,"v":10},{"x":165,"y":25,"v":14},{"x":175,"y":25,"v":24},{"x":185,"y":25,"v":22},{"x":195,"y":25,"v":14},
{"x":5,"y":15,"v":18},{"x":15,"y":15,"v":20},{"x":25,"y":15,"v":16},{"x":35,"y":15,"v":18},{"x":45,"y":15,"v":10},{"x":55,"y":15,"v":8},{"x":65,"y":15,"v":10},{"x":75,"y":15,"v":14},{"x":85,"y":15,"v":12},{"x":95,"y":15,"v":16},{"x":105,"y":15,"v":24},{"x":115,"y":15,"v":22},{"x":125,"y":15,"v":24},{"x":135,"y":15,"v":34},{"x":145,"y":15,"v":40},{"x":155,"y":15,"v":36},{"x":165,"y":15,"v":30},{"x":175,"y":15,"v":22},{"x":185,"y":15,"v":20},{"x":195,"y":15,"v":14},
{"x":5,"y":5,"v":26},{"x":15,"y":5,"v":22},{"x":25,"y":5,"v":16},{"x":35,"y":5,"v":16},{"x":45,"y":5,"v":14},{"x":55,"y":5,"v":36},{"x":65,"y":5,"v":44},{"x":75,"y":5,"v":52},{"x":85,"y":5,"v":50},{"x":95,"y":5,"v":54},{"x":105,"y":5,"v":16},{"x":115,"y":5,"v":8},{"x":125,"y":5,"v":10},{"x":135,"y":5,"v":8},{"x":145,"y":5,"v":8},{"x":155,"y":5,"v":8},{"x":165,"y":5,"v":6},{"x":175,"y":5,"v":20},{"x":185,"y":5,"v":16},{"x":195,"y":5,"v":12}],
"c":[{"x":162,"y":172.5,"v":0.18},{"x":163.5,"y":172.5,"v":0.2},{"x":163.5,"y":167.5,"v":0.28},{"x":165,"y":167.5,"v":0.12},{"x":166.5,"y":167.5,"v":0.1},{"x":168,"y":167.5,"v":0.3},{"x":169.5,"y":167.5,"v":0.25},{"x":163.5,"y":162.5,"v":0.3},{"x":165,"y":162.5,"v":0.2},{"x":166.5,"y":162.5,"v":0.3},{"x":168,"y":162.5,"v":0.55},{"x":169.5,"y":162.5,"v":0.45},{"x":171,"y":162.5,"v":0.2},{"x":163.5,"y":157.5,"v":0.25},{"x":165,"y":157.5,"v":0.4},{"x":166.5,"y":157.5,"v":0.45},{"x":168,"y":157.5,"v":0.75},{"x":169.5,"y":157.5,"v":0.85},{"x":171,"y":157.5,"v":0.35},{"x":163.5,"y":152.5,"v":0.3},{"x":165,"y":152.5,"v":0.45},{"x":166.5,"y":152.5,"v":0.55},{"x":168,"y":152.5,"v":0.9},{"x":169.5,"y":152.5,"v":1},{"x":171,"y":152.5,"v":0.35},{"x":163.5,"y":147.5,"v":0.3},{"x":165,"y":147.5,"v":0.45},{"x":166.5,"y":147.5,"v":0.5},{"x":168,"y":147.5,"v":0.8},{"x":169.5,"y":147.5,"v":0.9},{"x":171,"y":147.5,"v":0.4},{"x":163.5,"y":142.5,"v":0.3},{"x":165,"y":142.5,"v":0.33},{"x":166.5,"y":142.5,"v":0.33},{"x":168,"y":142.5,"v":0.5},{"x":169.5,"y":142.5,"v":0.55},{"x":171,"y":142.5,"v":0.3},{"x":162,"y":137.5,"v":0.12},{"x":163.5,"y":137.5,"v":0.2},{"x":165,"y":137.5,"v":0.15},{"x":166.5,"y":137.5,"v":0.15},{"x":168,"y":137.5,"v":0.28},{"x":169.5,"y":137.5,"v":0.3},{"x":171,"y":137.5,"v":0.22},{"x":172.5,"y":137.5,"v":0.05},{"x":162,"y":132.5,"v":0.18},{"x":163.5,"y":132.5,"v":0.2},{"x":171,"y":132.5,"v":0.05},{"x":172.5,"y":132.5,"v":0.05},{"x":174,"y":132.5,"v":0.05},{"x":160.5,"y":127.5,"v":0.1},{"x":162,"y":127.5,"v":0.18},{"x":163.5,"y":127.5,"v":0.15},{"x":159,"y":122.5,"v":0.1},{"x":160.5,"y":122.5,"v":0.2},{"x":162,"y":122.5,"v":0.18},{"x":159,"y":117.5,"v":0.15},{"x":160.5,"y":117.5,"v":0.22},{"x":162,"y":117.5,"v":0.1},{"x":156,"y":112.5,"v":0.1},{"x":157.5,"y":112.5,"v":0.2},{"x":159,"y":112.5,"v":0.22},{"x":160.5,"y":112.5,"v":0.12},{"x":153,"y":107.5,"v":0.1},{"x":154.5,"y":107.5,"v":0.18},{"x":156,"y":107.5,"v":0.24},{"x":157.5,"y":107.5,"v":0.3},{"x":159,"y":107.5,"v":0.18},{"x":148.5,"y":102.5,"v":0.08},{"x":150,"y":102.5,"v":0.12},{"x":151.5,"y":102.5,"v":0.16},{"x":153,"y":102.5,"v":0.22},{"x":154.5,"y":102.5,"v":0.22},{"x":156,"y":102.5,"v":0.18},{"x":157.5,"y":102.5,"v":0.08},{"x":142.5,"y":97.5,"v":0.08},{"x":144,"y":97.5,"v":0.1},{"x":145.5,"y":97.5,"v":0.12},{"x":147,"y":97.5,"v":0.15},{"x":148.5,"y":97.5,"v":0.18},{"x":150,"y":97.5,"v":0.15},{"x":151.5,"y":97.5,"v":0.12},{"x":153,"y":97.5,"v":0.08},{"x":141,"y":92.5,"v":0.05},{"x":142.5,"y":92.5,"v":0.1},{"x":144,"y":92.5,"v":0.12},{"x":145.5,"y":92.5,"v":0.1},{"x":147,"y":92.5,"v":0.1},{"x":148.5,"y":92.5,"v":0.06},{"x":160.5,"y":177.5,"v":0.15},{"x":162,"y":177.5,"v":0.18},{"x":163.5,"y":177.5,"v":0.12},{"x":159,"y":182.5,"v":0.12},{"x":160.5,"y":182.5,"v":0.15},{"x":162,"y":182.5,"v":0.12},{"x":159,"y":187.5,"v":0.15},{"x":160.5,"y":187.5,"v":0.18},{"x":162,"y":187.5,"v":0.06},{"x":157.5,"y":192.5,"v":0.05},{"x":159,"y":192.5,"v":0.12},{"x":160.5,"y":192.5,"v":0.08},{"x":157.5,"y":197.5,"v":0.08},{"x":159,"y":197.5,"v":0.08},{"x":156,"y":202.5,"v":0.06},{"x":157.5,"y":202.5,"v":0.08},{"x":159,"y":202.5,"v":0.05},{"x":156,"y":207.5,"v":0.08},{"x":157.5,"y":207.5,"v":0.08},{"x":154.5,"y":212.5,"v":0.05},{"x":156,"y":212.5,"v":0.06},{"x":157.5,"y":212.5,"v":0.05},{"x":154.5,"y":217.5,"v":0.05},{"x":156,"y":217.5,"v":0.06},{"x":154.5,"y":222.5,"v":0.05},{"x":156,"y":222.5,"v":0.05},{"x":153,"y":227.5,"v":0.04},{"x":154.5,"y":227.5,"v":0.05},{"x":153,"y":232.5,"v":0.05},{"x":154.5,"y":232.5,"v":0.04},{"x":153,"y":237.5,"v":0.03}],
"dsim":[{"s":1,"x":81,"y":0.010},{"s":1,"x":85,"y":0.025},{"s":1,"x":90,"y":0.042},{"s":1,"x":95,"y":0.058},{"s":1,"x":100,"y":0.073},{"s":1,"x":105,"y":0.063},{"s":1,"x":110,"y":0.054},{"s":1,"x":115,"y":0.052},{"s":1,"x":120,"y":0.057},{"s":1,"x":125,"y":0.072},{"s":1,"x":130,"y":0.091},{"s":1,"x":135,"y":0.114},{"s":1,"x":140,"y":0.139},{"s":1,"x":143,"y":0.152},{"s":1,"x":147,"y":0.148},{"s":1,"x":152,"y":0.143},{"s":1,"x":155,"y":0.129},{"s":1,"x":160,"y":0.101},{"s":1,"x":165,"y":0.077},{"s":1,"x":170,"y":0.056},{"s":1,"x":175,"y":0.041},{"s":1,"x":180,"y":0.033},{"s":1,"x":185,"y":0.028},{"s":1,"x":190,"y":0.024},{"s":1,"x":195,"y":0.019},{"s":1,"x":200,"y":0.015},{"s":1,"x":205,"y":0.012},{"s":1,"x":210,"y":0.009},{"s":1,"x":215,"y":0.007},{"s":1,"x":220,"y":0.005},{"s":1,"x":225,"y":0.004},{"s":1,"x":230,"y":0.003},{"s":1,"x":235,"y":0.002},{"s":1,"x":240,"y":0.001},{"s":1,"x":245,"y":0.001},{"s":1,"x":250,"y":0.000},
{"s":2,"x":81,"y":0.011},{"s":2,"x":85,"y":0.027},{"s":2,"x":90,"y":0.044},{"s":2,"x":95,"y":0.060},{"s":2,"x":100,"y":0.075},{"s":2,"x":105,"y":0.066},{"s":2,"x":110,"y":0.057},{"s":2,"x":115,"y":0.055},{"s":2,"x":120,"y":0.060},{"s":2,"x":125,"y":0.075},{"s":2,"x":130,"y":0.094},{"s":2,"x":135,"y":0.117},{"s":2,"x":140,"y":0.142},{"s":2,"x":143,"y":0.156},{"s":2,"x":147,"y":0.151},{"s":2,"x":152,"y":0.147},{"s":2,"x":155,"y":0.132},{"s":2,"x":160,"y":0.104},{"s":2,"x":165,"y":0.08},{"s":2,"x":170,"y":0.058},{"s":2,"x":175,"y":0.043},{"s":2,"x":180,"y":0.035},{"s":2,"x":185,"y":0.030},{"s":2,"x":190,"y":0.025},{"s":2,"x":195,"y":0.021},{"s":2,"x":200,"y":0.017},{"s":2,"x":205,"y":0.013},{"s":2,"x":210,"y":0.010},{"s":2,"x":215,"y":0.008},{"s":2,"x":220,"y":0.006},{"s":2,"x":225,"y":0.0045},{"s":2,"x":230,"y":0.0035},{"s":2,"x":235,"y":0.0025},{"s":2,"x":240,"y":0.0015},{"s":2,"x":245,"y":0.001},{"s":2,"x":250,"y":0.001},
{"s":3,"x":81,"y":0.012},{"s":3,"x":85,"y":0.028},{"s":3,"x":90,"y":0.045},{"s":3,"x":95,"y":0.062},{"s":3,"x":100,"y":0.077},{"s":3,"x":105,"y":0.068},{"s":3,"x":110,"y":0.060},{"s":3,"x":115,"y":0.058},{"s":3,"x":120,"y":0.063},{"s":3,"x":125,"y":0.078},{"s":3,"x":130,"y":0.097},{"s":3,"x":135,"y":0.12},{"s":3,"x":140,"y":0.145},{"s":3,"x":143,"y":0.16},{"s":3,"x":147,"y":0.155},{"s":3,"x":152,"y":0.15},{"s":3,"x":155,"y":0.135},{"s":3,"x":160,"y":0.107},{"s":3,"x":165,"y":0.082},{"s":3,"x":170,"y":0.06},{"s":3,"x":175,"y":0.045},{"s":3,"x":180,"y":0.037},{"s":3,"x":185,"y":0.032},{"s":3,"x":190,"y":0.027},{"s":3,"x":195,"y":0.022},{"s":3,"x":200,"y":0.018},{"s":3,"x":205,"y":0.014},{"s":3,"x":210,"y":0.011},{"s":3,"x":215,"y":0.009},{"s":3,"x":220,"y":0.007},{"s":3,"x":225,"y":0.005},{"s":3,"x":230,"y":0.004},{"s":3,"x":235,"y":0.003},{"s":3,"x":240,"y":0.002},{"s":3,"x":245,"y":0.0015},{"s":3,"x":250,"y":0.001},
{"s":4,"x":81,"y":0.013},{"s":4,"x":85,"y":0.030},{"s":4,"x":90,"y":0.047},{"s":4,"x":95,"y":0.064},{"s":4,"x":100,"y":0.079},{"s":4,"x":105,"y":0.071},{"s":4,"x":110,"y":0.063},{"s":4,"x":115,"y":0.061},{"s":4,"x":120,"y":0.066},{"s":4,"x":125,"y":0.081},{"s":4,"x":130,"y":0.100},{"s":4,"x":135,"y":0.123},{"s":4,"x":140,"y":0.148},{"s":4,"x":143,"y":0.163},{"s":4,"x":147,"y":0.158},{"s":4,"x":152,"y":0.153},{"s":4,"x":155,"y":0.138},{"s":4,"x":160,"y":0.110},{"s":4,"x":165,"y":0.085},{"s":4,"x":170,"y":0.062},{"s":4,"x":175,"y":0.047},{"s":4,"x":180,"y":0.039},{"s":4,"x":185,"y":0.034},{"s":4,"x":190,"y":0.029},{"s":4,"x":195,"y":0.024},{"s":4,"x":200,"y":0.019},{"s":4,"x":205,"y":0.015},{"s":4,"x":210,"y":0.012},{"s":4,"x":215,"y":0.010},{"s":4,"x":220,"y":0.008},{"s":4,"x":225,"y":0.006},{"s":4,"x":230,"y":0.0045},{"s":4,"x":235,"y":0.0035},{"s":4,"x":240,"y":0.0025},{"s":4,"x":245,"y":0.002},{"s":4,"x":250,"y":0.0015},
{"s":5,"x":81,"y":0.014},{"s":5,"x":85,"y":0.032},{"s":5,"x":90,"y":0.049},{"s":5,"x":95,"y":0.066},{"s":5,"x":100,"y":0.082},{"s":5,"x":105,"y":0.074},{"s":5,"x":110,"y":0.066},{"s":5,"x":115,"y":0.064},{"s":5,"x":120,"y":0.069},{"s":5,"x":125,"y":0.084},{"s":5,"x":130,"y":0.103},{"s":5,"x":135,"y":0.126},{"s":5,"x":140,"y":0.151},{"s":5,"x":143,"y":0.166},{"s":5,"x":147,"y":0.161},{"s":5,"x":152,"y":0.156},{"s":5,"x":155,"y":0.141},{"s":5,"x":160,"y":0.113},{"s":5,"x":165,"y":0.088},{"s":5,"x":170,"y":0.065},{"s":5,"x":175,"y":0.05},{"s":5,"x":180,"y":0.042},{"s":5,"x":185,"y":0.037},{"s":5,"x":190,"y":0.031},{"s":5,"x":195,"y":0.026},{"s":5,"x":200,"y":0.021},{"s":5,"x":205,"y":0.016},{"s":5,"x":210,"y":0.013},{"s":5,"x":215,"y":0.011},{"s":5,"x":220,"y":0.009},{"s":5,"x":225,"y":0.007},{"s":5,"x":230,"y":0.005},{"s":5,"x":235,"y":0.004},{"s":5,"x":240,"y":0.003},{"s":5,"x":245,"y":0.0025},{"s":5,"x":250,"y":0.002}],
"dred":[{"x":82.5,"y":0.009},{"x":91,"y":0.052},{"x":100,"y":0.089},{"x":109,"y":0.073},{"x":118,"y":0.066},{"x":127,"y":0.086},{"x":136,"y":0.093},{"x":145,"y":0.141},{"x":153,"y":0.15},{"x":162,"y":0.11},{"x":171,"y":0.056},{"x":180,"y":0.026},{"x":189,"y":0.016},{"x":198,"y":0.0095},{"x":207,"y":0.008},{"x":216,"y":0.0035},{"x":225,"y":0.003},{"x":234,"y":0.002},{"x":243,"y":0.002},{"x":251,"y":0.003}],
"dblue":[{"x":94,"y":0.085},{"x":111,"y":0.035},{"x":128,"y":0.11},{"x":145,"y":0.095},{"x":162,"y":0.115},{"x":179,"y":0.03},{"x":196,"y":0},{"x":213,"y":0.02},{"x":230,"y":0},{"x":247,"y":0.01}],
"esim":[{"s":1,"x":5,"y":260},{"s":1,"x":10,"y":330},{"s":1,"x":15,"y":375},{"s":1,"x":20,"y":405},{"s":1,"x":25,"y":435},{"s":1,"x":30,"y":460},{"s":1,"x":35,"y":490},{"s":1,"x":40,"y":530},{"s":1,"x":45,"y":560},{"s":1,"x":50,"y":590},{"s":1,"x":55,"y":615},{"s":1,"x":60,"y":635},{"s":1,"x":65,"y":655},{"s":1,"x":70,"y":675},{"s":1,"x":75,"y":700},{"s":1,"x":80,"y":730},{"s":1,"x":85,"y":765},{"s":1,"x":90,"y":800},{"s":1,"x":95,"y":840},{"s":1,"x":100,"y":875},{"s":1,"x":105,"y":910},{"s":1,"x":110,"y":950},{"s":1,"x":115,"y":985},{"s":1,"x":120,"y":1010},{"s":1,"x":125,"y":1040},{"s":1,"x":130,"y":1080},
{"s":2,"x":5,"y":278},{"s":2,"x":10,"y":357},{"s":2,"x":15,"y":409},{"s":2,"x":20,"y":443},{"s":2,"x":25,"y":473},{"s":2,"x":30,"y":498},{"s":2,"x":35,"y":528},{"s":2,"x":40,"y":566},{"s":2,"x":45,"y":596},{"s":2,"x":50,"y":624},{"s":2,"x":55,"y":649},{"s":2,"x":60,"y":667},{"s":2,"x":65,"y":687},{"s":2,"x":70,"y":709},{"s":2,"x":75,"y":736},{"s":2,"x":80,"y":768},{"s":2,"x":85,"y":803},{"s":2,"x":90,"y":840},{"s":2,"x":95,"y":883},{"s":2,"x":100,"y":920},{"s":2,"x":105,"y":957},{"s":2,"x":110,"y":999},{"s":2,"x":115,"y":1037},{"s":2,"x":120,"y":1064},{"s":2,"x":125,"y":1094},{"s":2,"x":130,"y":1125},
{"s":3,"x":5,"y":290},{"s":3,"x":10,"y":375},{"s":3,"x":15,"y":431},{"s":3,"x":20,"y":469},{"s":3,"x":25,"y":499},{"s":3,"x":30,"y":524},{"s":3,"x":35,"y":554},{"s":3,"x":40,"y":590},{"s":3,"x":45,"y":620},{"s":3,"x":50,"y":646},{"s":3,"x":55,"y":671},{"s":3,"x":60,"y":688},{"s":3,"x":65,"y":708},{"s":3,"x":70,"y":731},{"s":3,"x":75,"y":760},{"s":3,"x":80,"y":794},{"s":3,"x":85,"y":829},{"s":3,"x":90,"y":868},{"s":3,"x":95,"y":911},{"s":3,"x":100,"y":950},{"s":3,"x":105,"y":989},{"s":3,"x":110,"y":1032},{"s":3,"x":115,"y":1071},{"s":3,"x":120,"y":1100},{"s":3,"x":125,"y":1130},{"s":3,"x":130,"y":1155},
{"s":4,"x":5,"y":300},{"s":4,"x":10,"y":390},{"s":4,"x":15,"y":450},{"s":4,"x":20,"y":490},{"s":4,"x":25,"y":520},{"s":4,"x":30,"y":545},{"s":4,"x":35,"y":575},{"s":4,"x":40,"y":610},{"s":4,"x":45,"y":640},{"s":4,"x":50,"y":665},{"s":4,"x":55,"y":690},{"s":4,"x":60,"y":705},{"s":4,"x":65,"y":725},{"s":4,"x":70,"y":750},{"s":4,"x":75,"y":780},{"s":4,"x":80,"y":815},{"s":4,"x":85,"y":850},{"s":4,"x":90,"y":890},{"s":4,"x":95,"y":935},{"s":4,"x":100,"y":975},{"s":4,"x":105,"y":1015},{"s":4,"x":110,"y":1060},{"s":4,"x":115,"y":1100},{"s":4,"x":120,"y":1130},{"s":4,"x":125,"y":1160},{"s":4,"x":130,"y":1180},
{"s":5,"x":5,"y":310},{"s":5,"x":10,"y":405},{"s":5,"x":15,"y":469},{"s":5,"x":20,"y":511},{"s":5,"x":25,"y":541},{"s":5,"x":30,"y":566},{"s":5,"x":35,"y":596},{"s":5,"x":40,"y":630},{"s":5,"x":45,"y":660},{"s":5,"x":50,"y":684},{"s":5,"x":55,"y":709},{"s":5,"x":60,"y":722},{"s":5,"x":65,"y":742},{"s":5,"x":70,"y":769},{"s":5,"x":75,"y":800},{"s":5,"x":80,"y":836},{"s":5,"x":85,"y":871},{"s":5,"x":90,"y":912},{"s":5,"x":95,"y":959},{"s":5,"x":100,"y":1000},{"s":5,"x":105,"y":1041},{"s":5,"x":110,"y":1088},{"s":5,"x":115,"y":1129},{"s":5,"x":120,"y":1160},{"s":5,"x":125,"y":1190},{"s":5,"x":130,"y":1205},
{"s":6,"x":5,"y":322},{"s":6,"x":10,"y":423},{"s":6,"x":15,"y":491},{"s":6,"x":20,"y":537},{"s":6,"x":25,"y":567},{"s":6,"x":30,"y":592},{"s":6,"x":35,"y":622},{"s":6,"x":40,"y":654},{"s":6,"x":45,"y":684},{"s":6,"x":50,"y":706},{"s":6,"x":55,"y":731},{"s":6,"x":60,"y":743},{"s":6,"x":65,"y":763},{"s":6,"x":70,"y":791},{"s":6,"x":75,"y":824},{"s":6,"x":80,"y":862},{"s":6,"x":85,"y":897},{"s":6,"x":90,"y":939},{"s":6,"x":95,"y":987},{"s":6,"x":100,"y":1030},{"s":6,"x":105,"y":1073},{"s":6,"x":110,"y":1121},{"s":6,"x":115,"y":1163},{"s":6,"x":120,"y":1196},{"s":6,"x":125,"y":1226},{"s":6,"x":130,"y":1235},
{"s":7,"x":5,"y":340},{"s":7,"x":10,"y":450},{"s":7,"x":15,"y":525},{"s":7,"x":20,"y":575},{"s":7,"x":25,"y":605},{"s":7,"x":30,"y":630},{"s":7,"x":35,"y":660},{"s":7,"x":40,"y":690},{"s":7,"x":45,"y":720},{"s":7,"x":50,"y":740},{"s":7,"x":55,"y":765},{"s":7,"x":60,"y":775},{"s":7,"x":65,"y":795},{"s":7,"x":70,"y":825},{"s":7,"x":75,"y":860},{"s":7,"x":80,"y":900},{"s":7,"x":85,"y":935},{"s":7,"x":90,"y":980},{"s":7,"x":95,"y":1030},{"s":7,"x":100,"y":1075},{"s":7,"x":105,"y":1120},{"s":7,"x":110,"y":1170},{"s":7,"x":115,"y":1215},{"s":7,"x":120,"y":1250},{"s":7,"x":125,"y":1280},{"s":7,"x":130,"y":1280}],
"ered":[{"x":2.5,"y":185},{"x":6,"y":235},{"x":10,"y":265},{"x":14,"y":295},{"x":17,"y":335},{"x":20,"y":365},{"x":25,"y":405},{"x":30,"y":445},{"x":33,"y":470},{"x":36,"y":490},{"x":41,"y":510},{"x":45,"y":540},{"x":50,"y":580},{"x":52,"y":590},{"x":60,"y":615},{"x":70,"y":650},{"x":80,"y":700},{"x":88,"y":730},{"x":95,"y":775},{"x":100,"y":805},{"x":105,"y":850},{"x":110,"y":885},{"x":115,"y":925},{"x":120,"y":950},{"x":125,"y":965},{"x":131,"y":980}],
"eblue":[{"x":6,"y":310},{"x":18.5,"y":560},{"x":31,"y":555},{"x":43.5,"y":690},{"x":56,"y":780},{"x":68.5,"y":740},{"x":80.5,"y":1060},{"x":93,"y":1010},{"x":105.5,"y":1225},{"x":118,"y":1245}]
},
"vconcat":[
{"bounds":"flush","spacing":178,"resolve":{"scale":{"color":"independent"},"legend":{"color":"independent"}},"hconcat":[
{"width":254,"height":228,"title":{"text":"a) One simul. of the primary variable","dx":-10,"offset":9},"layer":[
{"data":{"name":"a"},"mark":{"type":"rect","width":13,"height":13,"clip":true},"encoding":{"x":{"field":"x","type":"quantitative","scale":{"domain":[0,200],"nice":false},"title":null,"axis":{"values":[50,100,150,200]}},"y":{"field":"y","type":"quantitative","scale":{"domain":[0,180],"nice":false},"title":null,"axis":{"values":[50,100,150]}},"color":{"field":"v","type":"quantitative","scale":{"domain":[78,97.5,141.7,186,230.2,255],"range":["#00008f","#0000ff","#00ffff","#ffff00","#ff0000","#800000"],"interpolate":"rgb"},"legend":{"title":null,"offset":32,"gradientLength":229,"gradientThickness":39,"values":[100,150,200,250]}}}},
{"data":{"name":"pts"},"mark":{"type":"point","shape":"M-1,0H1M0,-1V1","size":170,"filled":false,"stroke":"#111","strokeWidth":1,"opacity":0.85},"encoding":{"x":{"field":"x","type":"quantitative"},"y":{"field":"y","type":"quantitative"}}}]},
{"bounds":"flush","spacing":181,"resolve":{"scale":{"color":"independent"},"legend":{"color":"independent"}},"hconcat":[
{"width":254,"height":228,"title":{"text":"b) Mean of 100 simulations","dx":-9,"offset":9},"layer":[
{"data":{"name":"b"},"mark":{"type":"rect","width":13,"height":13,"clip":true},"encoding":{"x":{"field":"x","type":"quantitative","scale":{"domain":[0,200],"nice":false},"title":null,"axis":{"values":[50,100,150,200]}},"y":{"field":"y","type":"quantitative","scale":{"domain":[0,180],"nice":false},"title":null,"axis":{"values":[50,100,150]}},"color":{"field":"v","type":"quantitative","scale":{"domain":[78,97.5,141.7,186,230.2,255],"range":["#00008f","#0000ff","#00ffff","#ffff00","#ff0000","#800000"],"interpolate":"rgb"},"legend":{"title":null,"offset":32,"gradientLength":229,"gradientThickness":39,"values":[100,150,200,250]}}}},
{"data":{"name":"pts"},"mark":{"type":"point","shape":"M-1,0H1M0,-1V1","size":170,"filled":false,"stroke":"#111","strokeWidth":1,"opacity":0.85},"encoding":{"x":{"field":"x","type":"quantitative"},"y":{"field":"y","type":"quantitative"}}}]},
{"width":228,"height":228,"title":{"text":"c) Experimental joint distribution","dx":-17,"offset":12,"fontSize":20},"view":{"fill":"#00008f"},"data":{"name":"c"},"mark":{"type":"rect","width":6.8,"height":6.6,"clip":true},"encoding":{"x":{"field":"x","type":"quantitative","scale":{"domain":[130.6,181.6],"nice":false},"title":"s","axis":{"values":[140,150,160,170,180],"labelExpr":"datum.value%20==0?datum.label:''","titlePadding":5}},"y":{"field":"y","type":"quantitative","scale":{"domain":[82,258],"nice":false},"title":"z","axis":{"values":[100,150,200,250],"titlePadding":-8}},"color":{"field":"v","type":"quantitative","scale":{"domain":[0,0.11,0.36,0.61,0.86,1],"range":["#00008f","#0000ff","#00ffff","#ffff00","#ff0000","#800000"],"interpolate":"rgb"},"legend":{"title":null,"offset":32,"gradientLength":229,"gradientThickness":40,"values":[0,0.2,0.4,0.6,0.8,1],"format":".1~f"}}}}
]}]},
{"bounds":"flush","spacing":67,"resolve":{"scale":{"color":"independent"},"legend":{"color":"independent"}},"hconcat":[
{"width":362,"height":228,"title":{"text":"d) Histograms of primary variable","dx":-8,"offset":7},"layer":[
{"data":{"name":"dsim"},"mark":{"type":"line","stroke":"#000","strokeWidth":2.1,"strokeDash":[1.5,0.7]},"encoding":{"x":{"field":"x","type":"quantitative","scale":{"domain":[80.5,252.5],"nice":false},"title":"Primary variable","axis":{"values":[100,150,200,250],"titlePadding":4}},"y":{"field":"y","type":"quantitative","scale":{"domain":[0,0.166],"nice":false},"title":"P(Primary variable)","axis":{"values":[0,0.05,0.1,0.15],"format":".2~f","titlePadding":5}},"detail":{"field":"s"}}},
{"data":{"name":"dred"},"mark":{"type":"line","stroke":"#ff0000","strokeWidth":3.5},"encoding":{"x":{"field":"x","type":"quantitative"},"y":{"field":"y","type":"quantitative"}}},
{"data":{"name":"dblue"},"mark":{"type":"point","shape":"circle","size":130,"filled":false,"stroke":"#3333ff","strokeWidth":1.4},"encoding":{"x":{"field":"x","type":"quantitative"},"y":{"field":"y","type":"quantitative"}}}]},
{"bounds":"flush","spacing":63,"resolve":{"scale":{"color":"independent"},"legend":{"color":"independent"}},"hconcat":[
{"width":362,"height":228,"title":{"text":"e) Variograms","dx":-20,"offset":11},"layer":[
{"data":{"name":"esim"},"mark":{"type":"line","stroke":"#000","strokeWidth":1.5},"encoding":{"x":{"field":"x","type":"quantitative","scale":{"domain":[2.5,132],"nice":false},"title":"h","axis":{"values":[20,40,60,80,100,120],"titlePadding":5}},"y":{"field":"y","type":"quantitative","scale":{"domain":[168,1326],"nice":false},"title":"γ(h)","axis":{"values":[200,400,600,800,1000,1200],"format":"d","titlePadding":11}},"detail":{"field":"s"},"strokeDash":{"field":"s","type":"nominal","scale":{"domain":[1,2,3,4,5,6,7],"range":[[1,4],[1,2.5],[1,1],[1,0.8],[1,1],[1,2.5],[1,4]]},"legend":null}}},
{"data":{"name":"ered"},"mark":{"type":"line","stroke":"#ff0000","strokeWidth":3.5},"encoding":{"x":{"field":"x","type":"quantitative"},"y":{"field":"y","type":"quantitative"}}},
{"data":{"name":"eblue"},"mark":{"type":"point","shape":"circle","size":130,"filled":false,"stroke":"#3333ff","strokeWidth":1.4},"encoding":{"x":{"field":"x","type":"quantitative"},"y":{"field":"y","type":"quantitative"}}}]},
{"width":254,"height":228,"title":{"text":"f) Standard deviation of 100 simulations","dx":0,"offset":8,"fontSize":20},"layer":[
{"data":{"name":"f"},"mark":{"type":"rect","width":13,"height":13,"clip":true},"encoding":{"x":{"field":"x","type":"quantitative","scale":{"domain":[0,200],"nice":false},"title":null,"axis":{"values":[50,100,150,200]}},"y":{"field":"y","type":"quantitative","scale":{"domain":[0,180],"nice":false},"title":null,"axis":{"values":[50,100,150]}},"color":{"field":"v","type":"quantitative","scale":{"domain":[2,9.3,25.8,42.3,58.8,68],"range":["#00008f","#0000ff","#00ffff","#ffff00","#ff0000","#800000"],"interpolate":"rgb"},"legend":{"title":null,"offset":32,"gradientLength":228,"gradientThickness":38,"values":[10,20,30,40,50,60]}}}},
{"data":{"name":"pts"},"mark":{"type":"point","shape":"M-1,0H1M0,-1V1","size":170,"filled":false,"stroke":"#111","strokeWidth":1,"opacity":0.85},"encoding":{"x":{"field":"x","type":"quantitative"},"y":{"field":"y","type":"quantitative"}}}]}
]}]}
]}
